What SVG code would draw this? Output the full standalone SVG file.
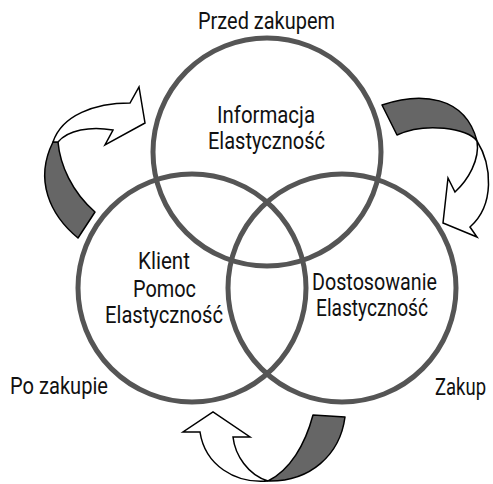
<svg xmlns="http://www.w3.org/2000/svg" width="493" height="484" viewBox="0 0 493 484">
  <style>
    .ring { fill: none; stroke: #555; stroke-width: 5; }
    .back { fill: #666; stroke: #000; stroke-width: 1.5; stroke-linejoin: round; }
    .front { fill: #fff; stroke: #000; stroke-width: 1.5; stroke-linejoin: miter; }
    text { font-family: Roboto, "Liberation Sans", sans-serif; font-size: 23.5px; fill: #111; }
  </style>
  <rect width="493" height="484" fill="#fff"/>

  <!-- cycle arrows (twisted ribbons) -->
  <g id="connectors">
    <g id="arrow-top-left">
      <path class="back" d="M78,238 C50,215 34,180 53,142 L58,142 C60,165 72,192 95,212 Z"/>
      <path class="front" d="M53,142 C62,115 95,103 130,103 L139,87 L145,123 L105,145 L113,130 C90,126 68,130 58,142 Z"/>
    </g>
    <g id="arrow-top-right">
      <path class="back" d="M382,105 C420,92 465,95 477,141 C468,128 425,122 397,135 Z"/>
      <path class="front" d="M477,141 C492,165 495,205 470,227 L477,237 L443,223 L448,178 L455,192 C468,180 480,160 477,141 Z"/>
    </g>
    <g id="arrow-bottom">
      <path class="back" d="M313,415 L345,417 C340,455 310,482 268,481 C290,470 305,445 313,415 Z"/>
      <path class="front" d="M268,481 C235,484 205,465 200,432 L183,432 L213,412 L250,437 L233,437 C235,455 248,475 268,481 Z"/>
    </g>
  </g>

  <!-- stage circles -->
  <g id="node-before">
    <circle class="ring" cx="267" cy="152" r="114"/>
    <text x="198" y="29" textLength="137" lengthAdjust="spacingAndGlyphs">Przed zakupem</text>
    <text x="217" y="123" textLength="98" lengthAdjust="spacingAndGlyphs">Informacja</text>
    <text x="208" y="149" textLength="117" lengthAdjust="spacingAndGlyphs">Elastyczność</text>
  </g>
  <g id="node-after">
    <circle class="ring" cx="192" cy="288" r="114"/>
    <text x="138" y="269" textLength="52" lengthAdjust="spacingAndGlyphs">Klient</text>
    <text x="133" y="297" textLength="63" lengthAdjust="spacingAndGlyphs">Pomoc</text>
    <text x="105" y="323" textLength="118" lengthAdjust="spacingAndGlyphs">Elastyczność</text>
    <text x="10" y="394" textLength="98" lengthAdjust="spacingAndGlyphs">Po zakupie</text>
  </g>
  <g id="node-purchase">
    <circle class="ring" cx="342" cy="288" r="114"/>
    <text x="312" y="290" textLength="125" lengthAdjust="spacingAndGlyphs">Dostosowanie</text>
    <text x="316" y="316" textLength="112" lengthAdjust="spacingAndGlyphs">Elastyczność</text>
    <text transform="translate(435,395) scale(0.85,1)" x="0" y="0" textLength="60" lengthAdjust="spacingAndGlyphs">Zakup</text>
  </g>
</svg>
